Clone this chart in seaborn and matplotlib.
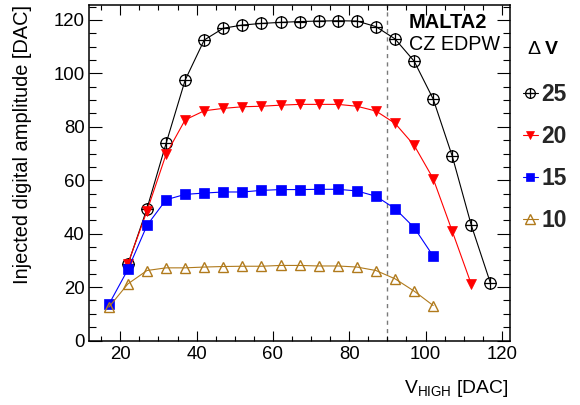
import matplotlib
matplotlib.use("Agg")
import matplotlib.pyplot as plt
from matplotlib.path import Path
from matplotlib.ticker import MultipleLocator
import pandas as pd
import seaborn as sns

# V_HIGH scan points [DAC] and injected digital amplitude per delta-V setting
vhigh_25 = [22, 27, 32, 37, 42, 47, 52, 57, 62, 67, 72, 77, 82, 87, 92, 97, 102, 107, 112, 117]
amp_25 = [28.5, 49.4, 73.8, 97.5, 112.5, 116.9, 118.1, 118.7, 119.1, 119.4, 119.6, 119.7,
          119.6, 117.5, 112.9, 104.6, 90.4, 69.0, 43.1, 21.5]

vhigh_20 = [22, 27, 32, 37, 42, 47, 52, 57, 62, 67, 72, 77, 82, 87, 92, 97, 102, 107, 112]
amp_20 = [28.8, 48.5, 69.7, 82.6, 86.0, 86.9, 87.5, 87.7, 88.1, 88.4, 88.4, 88.4, 87.7,
          85.9, 81.3, 73.1, 60.6, 40.9, 21.0]

vhigh_15 = [17, 22, 27, 32, 37, 42, 47, 52, 57, 62, 67, 72, 77, 82, 87, 92, 97, 102]
amp_15 = [13.5, 26.6, 43.1, 52.7, 54.7, 55.2, 55.6, 55.6, 56.2, 56.5, 56.5, 56.6, 56.6,
          56.0, 54.0, 49.4, 42.3, 31.6]

vhigh_10 = [17, 22, 27, 32, 37, 42, 47, 52, 57, 62, 67, 72, 77, 82, 87, 92, 97, 102]
amp_10 = [12.5, 21.2, 26.2, 27.2, 27.2, 27.5, 27.7, 27.8, 27.8, 28.1, 28.1, 27.9, 27.9,
          27.5, 26.2, 23.1, 18.5, 13.1]

delta_v_labels = ["25", "20", "15", "10"]
vhigh_cut = 90

sns.set_theme(style="ticks")
plt.rcParams["font.family"] = ["Liberation Sans", "DejaVu Sans"]
plt.rcParams["mathtext.fontset"] = "custom"
plt.rcParams["mathtext.rm"] = "Liberation Sans"

# circle with a cross inside
oplus = Path.make_compound_path(
    Path.unit_circle(),
    Path([(-1, 0), (1, 0)], [Path.MOVETO, Path.LINETO]),
    Path([(0, -1), (0, 1)], [Path.MOVETO, Path.LINETO]),
)

W, H = 580, 405
fig = plt.figure(figsize=(W / 100, H / 100), dpi=100)
ax = fig.add_axes([89 / W, 1 - 340.5 / H, 420.5 / W, 335.5 / H])

series = [
    (vhigh_25, amp_25, "black", dict(marker=oplus, markersize=8.2, markerfacecolor="none",
                                     markeredgecolor="black", markeredgewidth=0.9)),
    (vhigh_20, amp_20, "#ff0000", dict(marker="v", markersize=7.5, markerfacecolor="#ff0000",
                                       markeredgecolor="#ff0000", markeredgewidth=0.5)),
    (vhigh_15, amp_15, "#0000ff", dict(marker="s", markersize=6.8, markerfacecolor="#0000ff",
                                       markeredgecolor="#0000ff", markeredgewidth=0.5)),
    (vhigh_10, amp_10, "#b07a1c", dict(marker="^", markersize=7.8, markerfacecolor="none",
                                       markeredgecolor="#b07a1c", markeredgewidth=1.0)),
]

handles = []
for (xs, ys, col, mk), lab in zip(series, delta_v_labels):
    df = pd.DataFrame({"vhigh": xs, "amp": ys})
    sns.lineplot(data=df, x="vhigh", y="amp", color=col, linewidth=0.8, ax=ax, **mk)
    handles.append(ax.get_lines()[-1])

ax.axvline(vhigh_cut, color="#7a7a7a", linestyle=(0, (3, 3)), linewidth=1.0, zorder=0)

ax.set_xlim(11.8, 122.0)
ax.set_ylim(0, 125.6)
ax.xaxis.set_major_locator(MultipleLocator(20))
ax.xaxis.set_minor_locator(MultipleLocator(5))
ax.yaxis.set_major_locator(MultipleLocator(20))
ax.yaxis.set_minor_locator(MultipleLocator(5))
ax.tick_params(which="both", direction="in", top=True, right=True, width=0.8,
               color="black", labelsize=13.4, labelcolor="black")
ax.tick_params(axis="x", which="major", length=7.2, pad=4)
ax.tick_params(axis="x", which="minor", length=3.6)
ax.tick_params(axis="y", which="major", length=9.4, pad=3)
ax.tick_params(axis="y", which="minor", length=5.0)
for sp in ax.spines.values():
    sp.set_color("black")
    sp.set_linewidth(1.1)
ax.set_xlabel("")
ax.set_ylabel("")

ax.text(409 / W, 1 - 22.5 / H, "MALTA2", transform=fig.transFigure, ha="left", va="center",
        fontsize=14.4, fontweight="bold", color="black")
ax.text(409 / W, 1 - 44.5 / H, "CZ EDPW", transform=fig.transFigure, ha="left", va="center",
        fontsize=14.2, color="black")

fig.text(509 / W, 1 - 393 / H, r"V$_{\mathregular{HIGH}}$ [DAC]", ha="right",
         va="baseline", fontsize=13.9, color="black")
fig.text(23 / W, 1 - 5 / H, "Injected digital amplitude [DAC]", rotation=90,
         ha="center", va="top", fontsize=14.4, color="black")

# delta-V legend to the right of the frame
fig.text(527 / W, 1 - 49.5 / H, "Δ", ha="left", va="center", fontsize=14, color="black")
fig.text(545 / W, 1 - 49.5 / H, "V", ha="left", va="center", fontsize=14,
         fontweight="bold", color="black")
ax.legend(handles, delta_v_labels, loc="upper left",
          bbox_to_anchor=(523 / W, 1 - 83 / H), bbox_transform=fig.transFigure,
          frameon=False, borderpad=0, borderaxespad=0, handlelength=0.65,
          handletextpad=0.15, labelspacing=0.83, markerscale=0.85,
          prop={"weight": "bold", "size": 16.5})

fig.savefig("out.png", dpi=100)
